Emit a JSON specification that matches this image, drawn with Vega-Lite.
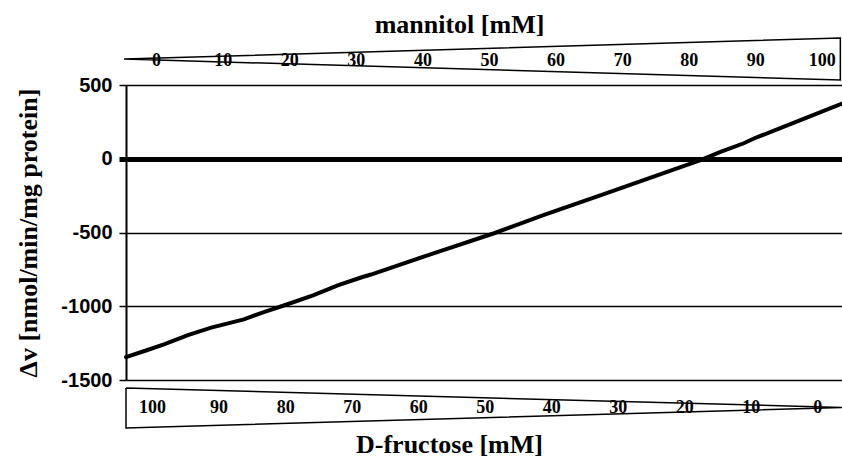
{
  "$schema": "https://vega.github.io/schema/vega-lite/v6.json",
  "padding": {"left": 15, "top": 11, "right": 0, "bottom": 0},
  "background": "white",
  "spacing": 1,
  "bounds": "flush",
  "config": {"view": {"stroke": null}, "font": "Liberation Serif"},
  "datasets": {
    "mannitolTicks": [
      {"mannitol": 0}, {"mannitol": 10}, {"mannitol": 20}, {"mannitol": 30}, {"mannitol": 40},
      {"mannitol": 50}, {"mannitol": 60}, {"mannitol": 70}, {"mannitol": 80}, {"mannitol": 90}, {"mannitol": 100}
    ],
    "fructoseTicks": [
      {"fructose": 100}, {"fructose": 90}, {"fructose": 80}, {"fructose": 70}, {"fructose": 60},
      {"fructose": 50}, {"fructose": 40}, {"fructose": 30}, {"fructose": 20}, {"fructose": 10}, {"fructose": 0}
    ],
    "topWedge": [
      {"mannitol": -4.9, "w": 0.543, "k": 1},
      {"mannitol": 102.7, "w": 1, "k": 2},
      {"mannitol": 102.7, "w": 0.087, "k": 3},
      {"mannitol": -4.9, "w": 0.543, "k": 4}
    ],
    "bottomWedge": [
      {"fructose": 104, "w": 0.857, "k": 1},
      {"fructose": -3.8, "w": 0.459, "k": 2},
      {"fructose": 104, "w": 0.041, "k": 3},
      {"fructose": 104, "w": 0.857, "k": 4}
    ],
    "response": [
      {"mannitol": -4.6, "dv": -1345},
      {"mannitol": -1.6, "dv": -1300},
      {"mannitol": 1.1, "dv": -1258},
      {"mannitol": 4.7, "dv": -1195},
      {"mannitol": 8.2, "dv": -1145},
      {"mannitol": 13.1, "dv": -1089},
      {"mannitol": 16.1, "dv": -1040},
      {"mannitol": 19.1, "dv": -995},
      {"mannitol": 23.6, "dv": -924},
      {"mannitol": 27.2, "dv": -858},
      {"mannitol": 30.7, "dv": -805},
      {"mannitol": 32.2, "dv": -785},
      {"mannitol": 40.8, "dv": -653},
      {"mannitol": 50.7, "dv": -505},
      {"mannitol": 58.2, "dv": -381},
      {"mannitol": 67.5, "dv": -235},
      {"mannitol": 81.8, "dv": -8},
      {"mannitol": 84.8, "dv": 48},
      {"mannitol": 88.2, "dv": 105},
      {"mannitol": 89.8, "dv": 139},
      {"mannitol": 96.8, "dv": 263},
      {"mannitol": 103.1, "dv": 376}
    ]
  },
  "vconcat": [
    {
      "width": 717,
      "height": 46,
      "encoding": {
        "x": {
          "field": "mannitol", "type": "quantitative",
          "scale": {"domain": [-4.6, 103.1], "nice": false, "zero": false},
          "axis": {
            "orient": "top", "title": "mannitol [mM]", "labels": false, "ticks": false, "domain": false, "grid": false,
            "titleFont": "Liberation Serif", "titleFontSize": 26, "titleFontWeight": "bold", "titleColor": "black",
            "titlePadding": 1, "titleX": 333
          }
        }
      },
      "layer": [
        {
          "data": {"name": "topWedge"},
          "mark": {"type": "line", "color": "black", "strokeWidth": 1.5, "clip": false},
          "encoding": {
            "y": {"field": "w", "type": "quantitative", "scale": {"domain": [0, 1], "nice": false}, "axis": null},
            "order": {"field": "k"}
          }
        },
        {
          "data": {"name": "mannitolTicks"},
          "mark": {"type": "text", "font": "Liberation Serif", "fontSize": 18, "fontWeight": "bold", "baseline": "middle", "color": "black"},
          "encoding": {
            "y": {"datum": 0.5, "type": "quantitative"},
            "text": {"field": "mannitol", "type": "quantitative"}
          }
        }
      ]
    },
    {
      "width": 717,
      "height": 295,
      "data": {"name": "response"},
      "mark": {"type": "line", "color": "black", "strokeWidth": 4, "strokeCap": "round"},
      "encoding": {
        "x": {
          "field": "mannitol", "type": "quantitative",
          "scale": {"domain": [-4.6, 103.1], "nice": false, "zero": false},
          "axis": null
        },
        "y": {
          "field": "dv", "type": "quantitative",
          "scale": {"domain": [-1500, 500], "nice": false},
          "axis": {
            "title": "Δv [nmol/min/mg protein]",
            "values": [-1500, -1000, -500, 0, 500],
            "labelExpr": "'' + datum.value",
            "grid": true,
            "gridColor": "black",
            "gridOpacity": 1,
            "gridWidth": {"condition": {"test": "datum.value === 0", "value": 5}, "value": 1.5},
            "tickColor": "black",
            "tickSize": 7,
            "tickWidth": {"condition": {"test": "datum.value === 0", "value": 5}, "value": 1.5},
            "domainColor": "black",
            "domainWidth": 2,
            "labelFont": "Liberation Sans",
            "labelFontSize": 20,
            "labelFontWeight": "bold",
            "labelColor": "black",
            "labelPadding": 7,
            "titleFont": "Liberation Serif",
            "titleFontSize": 26,
            "titleFontWeight": "bold",
            "titleColor": "black",
            "titlePadding": 19
          }
        }
      }
    },
    {
      "width": 717,
      "height": 49,
      "encoding": {
        "x": {
          "field": "fructose", "type": "quantitative",
          "scale": {"domain": [104, -3.8], "nice": false, "zero": false},
          "axis": {
            "orient": "bottom", "title": "D-fructose [mM]", "labels": false, "ticks": false, "domain": false, "grid": false,
            "titleFont": "Liberation Serif", "titleFontSize": 26, "titleFontWeight": "bold", "titleColor": "black",
            "titlePadding": 1.5, "titleX": 323
          }
        }
      },
      "layer": [
        {
          "data": {"name": "bottomWedge"},
          "mark": {"type": "line", "color": "black", "strokeWidth": 1.5, "clip": false},
          "encoding": {
            "y": {"field": "w", "type": "quantitative", "scale": {"domain": [0, 1], "nice": false}, "axis": null},
            "order": {"field": "k"}
          }
        },
        {
          "data": {"name": "fructoseTicks"},
          "mark": {"type": "text", "font": "Liberation Serif", "fontSize": 18, "fontWeight": "bold", "baseline": "middle", "color": "black"},
          "encoding": {
            "y": {"datum": 0.44, "type": "quantitative"},
            "text": {"field": "fructose", "type": "quantitative"}
          }
        }
      ]
    }
  ]
}
